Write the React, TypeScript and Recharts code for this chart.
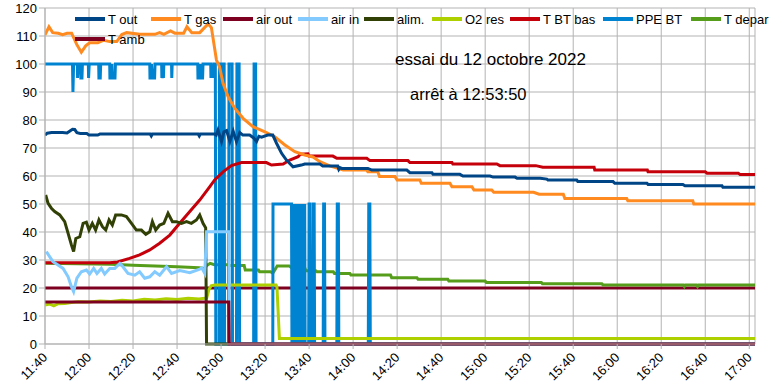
import { LineChart, Line, XAxis, YAxis, CartesianGrid } from 'recharts';

// minutes since 11:40, value
const tOut: [number, number][] = [
  [0, 74.6], [1, 75.3], [3, 75.5], [8, 75.5], [10, 75.4], [11.5, 76.2], [12.5, 76.7], [13.5, 76.6], [14.5, 75.5],
  [16, 75.2], [19, 75.2], [20, 74.6], [24, 74.6], [25, 75], [47.8, 75], [48.3, 74.3], [48.8, 75], [69.6, 75],
  [70.1, 74.3], [70.6, 75], [77, 75], [77.8, 74.6], [78.6, 76.4], [80.2, 72.3], [81.3, 75.8], [82.5, 76.2],
  [84, 72.3], [85.5, 76], [87, 72.3], [88.5, 75.5], [89.9, 74.6], [93, 74.6], [94.8, 73.6], [96.1, 72.3],
  [97.2, 74.2], [98.4, 73.9], [101.2, 74.6], [103.5, 74.6], [105.2, 71.7], [107.5, 68.1], [109.7, 65.7],
  [112.7, 63.3], [116.5, 63.9], [118, 64.3], [124.9, 64.3], [126.2, 63.6], [133, 63.6], [133.5, 62.4], [134, 63],
  [134.9, 62.7], [146.7, 62.7], [148.5, 62.1], [164.4, 62.1], [165.8, 61.2], [175.8, 61.2], [176.3, 60.6],
  [188.5, 60.6], [189.9, 60], [202.2, 60], [203.6, 59.6], [213.6, 59.6], [214.5, 59.2], [225, 59.2], [228, 58.9],
  [228.5, 58.6], [241.6, 58.6], [242.1, 58], [258.1, 58], [258.9, 57.4], [273.5, 57.4], [274, 57], [289.8, 57],
  [290.8, 56.5], [307.6, 56.5], [308, 56], [322.6, 56],
];

const tGas: [number, number][] = [
  [0, 110.4], [1.8, 113.3], [3.5, 111.2], [6, 111], [8, 110.5], [10, 111], [12.1, 111], [14.4, 107], [16.5, 104.2],
  [18.5, 106.5], [20.3, 107.6], [24, 107.6], [26.7, 108.5], [29.4, 108], [32.6, 108], [34.9, 110.5], [37.1, 111.2],
  [43, 110.6], [49.9, 110.6], [52.1, 111.2], [54, 110.6], [57, 111.8], [59, 111], [63, 111], [64.5, 113.3],
  [66.7, 111.2], [70.3, 111.2], [74.1, 114.3], [75.6, 113], [77.9, 101.4], [79.3, 99], [80.9, 93.1], [83.2, 88.3],
  [86.2, 84.2], [90, 80.6], [94.5, 77.6], [99.9, 75.8], [104.4, 74], [109, 71.1], [113.5, 68.7], [118, 67.5],
  [121.8, 66.8], [124.9, 65.1], [129.4, 63.6], [135.5, 62.1], [146.2, 62.1], [146.7, 61.5], [151.2, 61.5],
  [152, 59.8], [159, 59.8], [160, 58.6], [170.3, 58.6], [171, 57.4], [184, 57.4], [184.9, 56.2], [194, 56.2],
  [194.9, 55], [203, 55], [203.9, 54.2], [222, 54.2], [224.5, 53.5], [235.5, 53.5], [236.2, 52], [264.3, 52],
  [264.8, 51.2], [294.3, 51.2], [294.8, 50], [322.6, 50],
];

const airOut: [number, number][] = [[0, 15], [83.5, 15], [83.7, 0], [322.6, 0]];

const airIn: [number, number][] = [
  [0.6, 33], [2.1, 31.2], [3.6, 29.4], [5.9, 28.2], [8.2, 27], [10.5, 24], [12, 20.5], [13, 18.7], [14.5, 23.5],
  [16.5, 25.8], [18.8, 26.4], [20.3, 25], [22.1, 27], [23.6, 25.2], [25.6, 27], [27.1, 25], [29.4, 27], [31.7, 27],
  [34, 28.8], [35.5, 27.5], [37.7, 25.2], [40.8, 24.6], [43, 25.8], [45.3, 23.5], [47.6, 24], [49.9, 25.8],
  [52.1, 24.6], [55.2, 27.6], [57.5, 25.2], [61.2, 26.2], [65.8, 25.5], [70.3, 26.7], [71.2, 27.2], [72.6, 25.2],
  [73.4, 40.1], [83.6, 40.1], [83.8, 0], [322.6, 0],
];

const alim: [number, number][] = [
  [0.3, 53.2], [1.4, 50.2], [2.9, 48.5], [4.4, 47.3], [6.7, 46.1], [8.95, 43.7], [10.5, 39.5], [12, 35.4], [13, 33],
  [14, 37.7], [15.8, 38.3], [17.3, 43.1], [18.8, 43.5], [20, 40.7], [21.5, 43.1], [23, 40.7], [24.5, 44.3],
  [26.1, 41.9], [27.6, 40.7], [29.1, 44.3], [30.6, 42.5], [32.1, 46.1], [34.7, 46.1], [37, 45.5], [39.3, 43.1],
  [41.5, 40.7], [43.8, 40.7], [45.8, 39.2], [47.6, 40.1], [48.8, 43.7], [50.3, 40.7], [52.1, 42.5], [54, 43.1],
  [55.9, 46.7], [57.9, 43.7], [59.7, 43.7], [62, 43.1], [64.3, 43.7], [66.5, 43.1], [68.8, 44.3], [70.3, 46.1],
  [71.8, 43.1], [73, 41.5], [73.4, 0], [322.6, 0],
];

const o2Res: [number, number][] = [
  [0, 13.9], [2, 14.3], [4, 13.6], [6, 14.4], [9, 14.5], [12, 14.8], [15, 15.1], [20, 15], [25, 15.4], [30, 15.2],
  [35, 15.6], [40, 15.4], [45, 16], [50, 15.7], [55, 16.2], [60, 15.9], [65, 16.3], [70, 16.1], [72.5, 16.3],
  [73.5, 16.5], [74.5, 19.5], [75.5, 20.8], [77, 21.1], [105, 21.1], [105.4, 20.3], [106.5, 2], [322.6, 2],
];

const tBtBas: [number, number][] = [
  [0, 29], [29.4, 29], [33, 29.3], [38.4, 30.6], [43, 31.8], [47.6, 33.6], [52.1, 36], [56.7, 38.9], [61.2, 43.1],
  [65.8, 47.3], [70.3, 51.4], [74.9, 56.2], [77.1, 58.6], [80.9, 61.5], [84.7, 63.7], [89.3, 64.8], [100.6, 64.8],
  [102.9, 63.9], [108.2, 64.3], [111.2, 65.7], [115, 66.9], [116, 67.8], [119.5, 67.9], [120, 67.1], [130.8, 67.1],
  [132.6, 66.3], [146.2, 66.3], [147.6, 65.5], [164.9, 65.5], [165.8, 64.8], [184.9, 64.8], [185.3, 64.3],
  [205.3, 64.3], [206.7, 63.7], [223, 63.7], [226.2, 63.1], [249.5, 63.1], [249.8, 62.1], [273.7, 62.1],
  [274, 61.5], [300, 61.5], [300.8, 61], [315, 61], [315.8, 60.5], [322.6, 60.5],
];

const ppeBt: [number, number][] = [
  [0, 100], [12.5, 100], [12.7, 90], [13, 100], [14.7, 100], [14.8, 95], [15.1, 100], [16.2, 100], [16.3, 95],
  [16.8, 95], [17, 100], [19.7, 100], [19.8, 95], [20.1, 100], [24.4, 100], [24.5, 95], [25.1, 95], [25.3, 100],
  [29.4, 100], [29.5, 95], [30.2, 95], [30.4, 100], [30.6, 95], [31.8, 95], [32, 100], [47.6, 100], [47.7, 95],
  [48.2, 95], [48.4, 100], [48.8, 95], [49.8, 95], [50, 100], [53, 100], [53.1, 95], [53.5, 97], [53.8, 95],
  [54, 100], [57.5, 100], [57.6, 95], [57.8, 100], [69.4, 100], [69.5, 95], [70.5, 95], [70.7, 100], [71, 95],
  [71.6, 95], [71.8, 100], [75.3, 100], [75.4, 95], [75.8, 100], [76.3, 95], [76.7, 100], [77.4, 100], [77.6, 0],
  [79.1, 0], [79.3, 100], [79.6, 100], [79.8, 0], [80.5, 0], [80.7, 100], [81.4, 100], [81.6, 0], [83.4, 0],
  [83.6, 100], [85, 100], [85.2, 0], [87, 0], [87.2, 100], [88.2, 100], [88.4, 0], [94.8, 0], [95, 100],
  [95.7, 100], [95.9, 0], [103.5, 0], [103.6, 50], [112, 50], [112.2, 0], [112.5, 50], [112.8, 0], [113.1, 50],
  [113.4, 0], [113.7, 50], [114, 0], [114.3, 50], [114.6, 0], [114.9, 50], [115.2, 0], [115.5, 50], [115.8, 0],
  [116.1, 50], [116.4, 0], [116.7, 50], [117, 0], [117.3, 50], [117.6, 0], [118, 50], [118.2, 0], [119.8, 0],
  [120, 50], [120.3, 50], [120.5, 0], [121.6, 0], [121.8, 50], [122.3, 50], [122.5, 0], [126.4, 0], [126.6, 50],
  [127, 50], [127.2, 0], [132.6, 0], [132.8, 50], [133.3, 50], [133.5, 0], [146.9, 0], [147.1, 50], [147.6, 50],
  [147.8, 0], [322.6, 0],
];

const tDepar: [number, number][] = [
  [0, 28.8], [30, 28.5], [40, 28.1], [60, 27.6], [70, 27.2], [72.5, 27], [73.5, 28], [75, 28.8], [77, 28.3],
  [83.5, 28.3], [84, 28], [90.5, 28], [91, 26.4], [97, 26.4], [97.5, 25.8], [102.5, 25.8], [103.5, 25.3],
  [104.5, 26.5], [105.5, 27.9], [111, 27.9], [112, 27.2], [118, 27.2], [118.5, 26.2], [123, 26.2], [123.5, 25.8],
  [131, 25.8], [131.5, 25.2], [138.5, 25.2], [139, 24.6], [157, 24.6], [157.5, 23.7], [169, 23.7], [169.5, 23.1],
  [183, 23.1], [183.5, 22.5], [200, 22.5], [200.5, 22], [225.5, 22], [226, 21.5], [253, 21.5], [253.5, 21.1],
  [290, 21.1], [290.5, 20.5], [291, 21.1], [296, 21.1], [296.5, 20.5], [297, 21.1], [322.6, 21.1],
];

const tAmb: [number, number][] = [[0, 20], [322.6, 20]];

const seriesNames = ['T out', 'T gas', 'air out', 'air in', 'alim.', 'O2 res', 'T BT bas', 'PPE BT', 'T depar', 'T amb'];
const seriesColors = ['#004586', '#ff8a1f', '#7e0021', '#83caff', '#314004', '#aecf00', '#c5000b', '#0084d1', '#579d1c', '#7e0021'];
const seriesData = [tOut, tGas, airOut, airIn, alim, o2Res, tBtBas, ppeBt, tDepar, tAmb];

const tickLabels = ['11:40', '12:00', '12:20', '12:40', '13:00', '13:20', '13:40', '14:00', '14:20', '14:40',
  '15:00', '15:20', '15:40', '16:00', '16:20', '16:40', '17:00'];
const timeTicks = tickLabels.map((_, i) => i * 20);
const valueTicks = [0, 10, 20, 30, 40, 50, 60, 70, 80, 90, 100, 110, 120];

const title = 'essai du 12 octobre 2022';
const subtitle = 'arrêt à 12:53:50';

const FONT = '"Liberation Sans", Arial, sans-serif';

// legend columns, as laid out by the original
const legendX = [75, 151, 223, 298, 364, 432, 510, 603, 691, 75];

const TimeTick = (props: any) => {
  const { x, y, payload } = props;
  const label = tickLabels[timeTicks.indexOf(payload.value)];
  return (
    <g transform={`translate(${x},${y + 3})`}>
      <text x={0} y={0} dy="0.35em" textAnchor="end" transform="rotate(-45)" fontSize={13} fill="#000" fontFamily={FONT}>
        {label}
      </text>
    </g>
  );
};

export default function App() {
  return (
    <div style={{ position: 'absolute', left: 0, top: 0, width: 773, height: 391, background: '#fff', fontFamily: FONT }}>
      <LineChart width={773} height={391} margin={{ top: 8, right: 18, bottom: 0, left: 0 }}>
        <CartesianGrid stroke="#b3b3b3" strokeWidth={1} />
        <XAxis
          type="number"
          dataKey="t"
          domain={[0, 322.6]}
          ticks={timeTicks}
          interval={0}
          allowDataOverflow
          height={47}
          tickSize={5}
          tickMargin={3}
          stroke="#b3b3b3"
          tick={<TimeTick />}
        />
        <YAxis
          domain={[0, 120]}
          ticks={valueTicks}
          interval={0}
          width={45}
          tickSize={6}
          tickMargin={2}
          stroke="#b3b3b3"
          tick={{ fill: '#000', fontSize: 13, fontFamily: FONT }}
        />
        <YAxis yAxisId="edge" orientation="right" width={0} tick={false} tickLine={false} stroke="#b3b3b3" />
        {seriesData
          .map((d, i) => ({ d, i }))
          .reverse()
          .map(({ d, i }) => (
            <Line
              key={seriesNames[i]}
              data={d.map(([t, v]) => ({ t, v }))}
              dataKey="v"
              type="linear"
              stroke={seriesColors[i]}
              strokeWidth={3}
              dot={false}
              activeDot={false}
              isAnimationActive={false}
            />
          ))}
      </LineChart>
      {seriesNames.map((name, i) => (
        <div
          key={name}
          style={{
            position: 'absolute',
            left: legendX[i],
            top: i < 9 ? 11 : 31,
            height: 16,
            display: 'flex',
            alignItems: 'center',
            fontSize: 13,
            color: '#000',
            whiteSpace: 'nowrap',
          }}
        >
          <span style={{ display: 'inline-block', width: 30, height: 4, background: seriesColors[i], marginRight: 3 }} />
          <span>{name}</span>
        </div>
      ))}
      <div style={{ position: 'absolute', left: 395, top: 50, fontSize: 17, color: '#000', whiteSpace: 'nowrap' }}>{title}</div>
      <div style={{ position: 'absolute', left: 410, top: 85, fontSize: 16.5, color: '#000', whiteSpace: 'nowrap' }}>{subtitle}</div>
    </div>
  );
}
